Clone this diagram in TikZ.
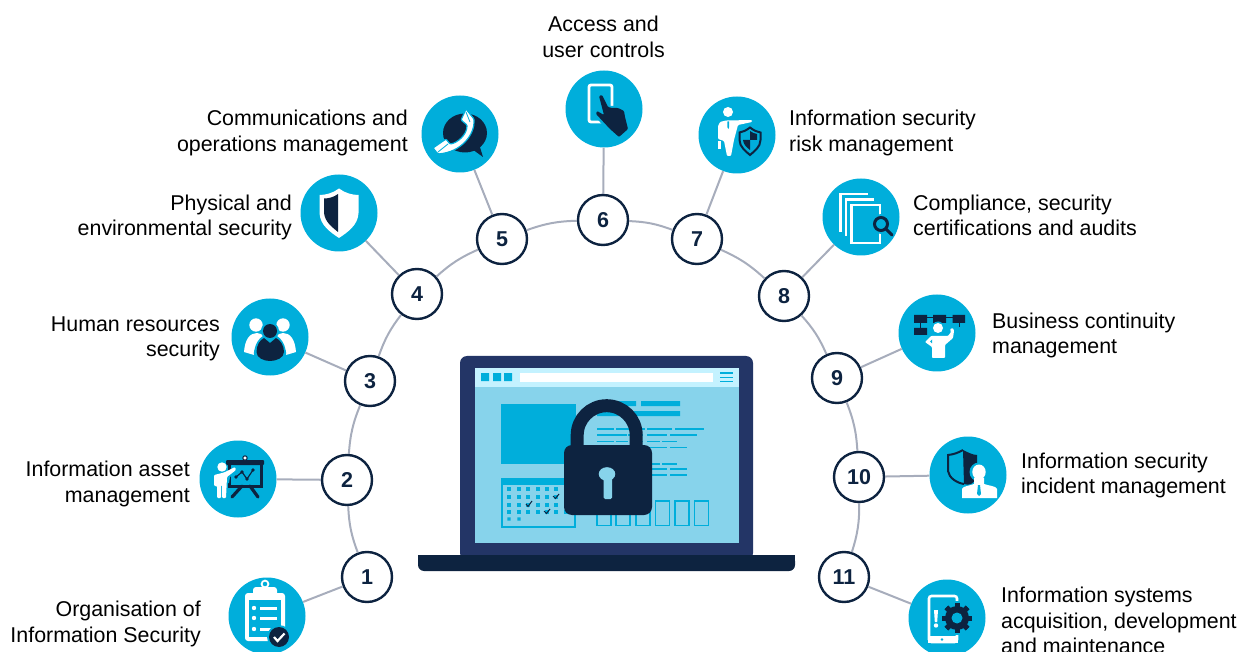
\documentclass[tikz,border=0pt]{standalone}
\usepackage{fontspec}
\setmainfont{Liberation Sans}
\definecolor{cy}{HTML}{00AEDB}
\definecolor{dk}{HTML}{0D2340}
\definecolor{nv}{HTML}{233566}
\definecolor{scr}{HTML}{87D3EB}
\definecolor{tb}{HTML}{C4F2FF}
\definecolor{gl}{HTML}{A7ADBC}
\tikzset{
  num/.style={circle,draw=dk,line width=2.4pt,fill=white,minimum size=50pt,inner sep=0pt,text=dk,font=\fontsize{21.5}{24}\bfseries\selectfont},
  iconc/.style={circle,fill=cy,minimum size=77pt,inner sep=0pt},
  lab/.style={inner sep=0pt,text=black,font=\fontsize{21.4}{25.3}\selectfont},
  link/.style={gl,line width=2pt}
}
\begin{document}
\begin{tikzpicture}[x=1pt,y=-1pt]
\clip (0,0) rectangle (1240,652);
% numbered nodes
\node[num] (n1) at (367,577) {1};
\node[num] (n2) at (347,480) {2};
\node[num] (n3) at (370,381) {3};
\node[num] (n4) at (417,294) {4};
\node[num] (n5) at (502,239) {5};
\node[num] (n6) at (603,220) {6};
\node[num] (n7) at (697,239) {7};
\node[num] (n8) at (784,296) {8};
\node[num] (n9) at (837,378) {9};
\node[num] (n10) at (859,477) {10};
\node[num] (n11) at (844,577) {11};
% icon discs
\node[iconc] (i1) at (267,616) {};
\node[iconc] (i2) at (238,479) {};
\node[iconc] (i3) at (270,337) {};
\node[iconc] (i4) at (339,213) {};
\node[iconc] (i5) at (460,134) {};
\node[iconc] (i6) at (604,109) {};
\node[iconc] (i7) at (737,135) {};
\node[iconc] (i8) at (861,217) {};
\node[iconc] (i9) at (937,333) {};
\node[iconc] (i10) at (968,475) {};
\node[iconc] (i11) at (947,618) {};
% connectors
\draw[link] (n1) to[bend left=9] (n2);
\draw[link] (n2) to[bend left=9] (n3);
\draw[link] (n3) to[bend left=9] (n4);
\draw[link] (n4) to[bend left=9] (n5);
\draw[link] (n5) to[bend left=9] (n6);
\draw[link] (n6) to[bend left=9] (n7);
\draw[link] (n7) to[bend left=9] (n8);
\draw[link] (n8) to[bend left=9] (n9);
\draw[link] (n9) to[bend left=9] (n10);
\draw[link] (n10) to[bend left=9] (n11);
\foreach \k in {1,...,11} {\draw[link] (n\k) -- (i\k);}
% labels
\node[lab,align=right,anchor=east] (t1) at (201,624) {Organisation of\\Information Security};
\node[lab,align=right,anchor=east] (t2) at (190,484) {Information asset\\management};
\node[lab,align=right,anchor=east] (t3) at (220,339) {Human resources\\security};
\node[lab,align=right,anchor=east] (t4) at (292,217.5) {Physical and\\environmental security};
\node[lab,align=right,anchor=east] (t5) at (408,133) {Communications and\\operations management};
\node[lab,align=center] (t6) at (603.5,37) {Access and\\user controls};
\node[lab,align=left,anchor=west] (t7) at (789,133) {Information security\\risk management};
\node[lab,align=left,anchor=west] (t8) at (913,215.5) {Compliance, security\\certifications and audits};
\node[lab,align=left,anchor=west] (t9) at (992,335.5) {Business continuity\\management};
\node[lab,align=left,anchor=west] (t10) at (1021,475.5) {Information security\\incident management};
\node[lab,align=left,anchor=west] (t11) at (1001,620.5) {Information systems\\acquisition, development\\and maintenance};
% ---- laptop
\fill[nv,rounded corners=7pt] (460,560) -- (460,356) -- (753,356) -- (753,560) -- cycle;
\fill[scr] (475,368) rectangle (739,543);
\fill[tb] (475,368) rectangle (739,387);
\fill[cy] (481,373) rectangle (489,381) (493,373) rectangle (501,381) (504,373) rectangle (512,381);
\fill[white] (520,373) rectangle (713,382);
\draw[cy,line width=1pt] (720,373) -- (733,373) (720,377) -- (733,377) (720,381) -- (733,381);
\fill[dk,rounded corners=6pt] (418,555) -- (418,571) -- (795,571) -- (795,555) -- cycle;
\fill[dk] (418,555) rectangle (795,562);
\fill[cy] (501,404) rectangle (576,464);
\fill[cy] (617,401) rectangle (636,406) (641,401) rectangle (680,406) (597,411) rectangle (680,416);
\draw[cy,line width=2pt] (502,479) rectangle (575,527);
\fill[cy] (501,478) rectangle (576,485);
\foreach \yy in {489,497,505,512}{\foreach \xx in {509,519,528,538,547,556,566}{\fill[cy] (\xx-1.6,\yy-1.6) rectangle (\xx+1.6,\yy+1.6);}}
\fill[cy] (507.4,517.4) rectangle (510.6,520.6) (517.4,517.4) rectangle (520.6,520.6);
\draw[dk,line width=1pt] (526,504) -- (528,506.5) -- (532,501) (553,496) -- (555.5,498.5) -- (559,494) (544,511) -- (546.5,513.5) -- (550,509);
\draw[cy,line width=1.5pt]
 (597,429) -- (614,429) (616,429) -- (628,429) (628,429) -- (645,429) (647,429) -- (672,429) (675,429) -- (704,429)
 (597,435) -- (627,435) (628,435) -- (643,435) (647,435) -- (667,435) (670,435) -- (697,435)
 (597,441.3) -- (614,441.3) (616,441.3) -- (628,441.3) (630,441.3) -- (643,441.3) (647,441.3) -- (660,441.3) (662,441.3) -- (677,441.3)
 (597,447.3) -- (614,447.3) (616,447.3) -- (627,447.3) (643,447.3) -- (667,447.3) (670,447.3) -- (687,447.3)
 (650,464) -- (660,464) (662,464) -- (677,464)
 (650,469) -- (667,469) (670,469) -- (687,469)
 (650,475) -- (667,475) (670,475) -- (687,475);
\draw[cy,line width=1.6pt] (597,501) rectangle (611,525.5) (616,501) rectangle (630,525.5) (636,501) rectangle (650,525.5) (655.5,501) rectangle (669.5,525.5) (675,501) rectangle (689,525.5) (694.5,501) rectangle (708.5,525.5);
% padlock
\draw[dk,line width=13pt] (577.2,450) -- (577.2,435.2) arc[start angle=180,end angle=360,radius=29.5] -- (636.2,450);
\fill[dk,rounded corners=8pt] (564,445) rectangle (652,515);
\fill[scr] (607,474) ellipse[x radius=8.3,y radius=6.8];
\fill[scr,rounded corners=1.5pt] (603.5,476) rectangle (612,499);
% ---- icon 1 clipboard
\begin{scope}[shift={(i1.center)}]
\fill[white,rounded corners=3pt] (-22,-23) rectangle (18,25);
\fill[cy] (-18,-16) rectangle (14,21);
\fill[white,rounded corners=3pt] (-14,-29) rectangle (10,-20);
\draw[white,line width=1.8pt] (-2,-32) circle[radius=3.4];
\foreach \yy in {-8,2,13}{\fill[white] (-13,\yy) circle[radius=2.2]; \draw[white,line width=3pt] (-7,\yy) -- (10,\yy);}
\fill[cy] (12,21) circle[radius=12];
\fill[dk] (12,21) circle[radius=10];
\draw[white,line width=2.2pt] (7,21) -- (10.5,25) -- (17.5,17.5);
\end{scope}
% ---- icon 2 presenter
\begin{scope}[shift={(i2.center)}]
\fill[dk,rounded corners=1pt] (-12,-19) rectangle (26,-14);
\draw[dk,line width=3pt] (-9,-14) -- (-9,7) -- (23,7) -- (23,-14);
\draw[dk,line width=3.2pt,line cap=round] (4,7) -- (-6,18) (12,7) -- (20,18);
\fill[white,draw=dk,line width=1pt] (7,-21) circle[radius=2.2];
\draw[dk,line width=1.2pt] (-2,-2) -- (4,-7) -- (9,0) -- (15,-9);
\foreach \p in {(-2,-2),(4,-7),(9,0),(15,-9)}{\fill[dk] \p circle[radius=1.9];}
\fill[cy] (-6,-14) -- (-1,-13) -- (-1,-8) -- (-8,-2) -- (-9,4) -- (-12,4) -- cycle;
\fill[white] (-16,-12) circle[radius=4.7];
\fill[white,rounded corners=1pt] (-24,-4) -- (-14,-6.5) -- (-3,-12) -- (-2,-9) -- (-11,-2) -- (-12,19) -- (-16,19) -- (-16,6) -- (-17,6) -- (-17,19) -- (-21,19) -- (-21,7) -- (-24,7) -- cycle;
\end{scope}
% ---- icon 3 people
\begin{scope}[shift={(i3.center)}]
\fill[white] (-14,-12) circle[radius=6.7] (13,-12) circle[radius=6.7];
\fill[white] (-26,15) .. controls (-25,2) and (-20,-4) .. (-13,-4) .. controls (-7,-4) and (-2,2) .. (0,15) -- (-16,18) -- cycle;
\fill[white] (26,15) .. controls (25,2) and (20,-4) .. (13,-4) .. controls (7,-4) and (2,2) .. (0,15) -- (16,18) -- cycle;
\fill[cy] (-16,25) .. controls (-18,8) and (-10,-3) .. (0,-3) .. controls (10,-3) and (18,8) .. (16,25) -- cycle;
\fill[cy] (0,-6) circle[radius=9];
\fill[dk] (0,-6) circle[radius=7];
\fill[dk] (-13.5,15) .. controls (-13.5,8) and (-10,3) .. (-6,1) -- (0,6) -- (6,1) .. controls (10,3) and (14,8) .. (14,15) .. controls (14,21) and (6,24) .. (0,24) .. controls (-6,24) and (-13.5,21) .. (-13.5,15) -- cycle;
\end{scope}
% ---- icon 4 shield
\begin{scope}[shift={(i4.center)}]
\fill[white] (0,-24.5) .. controls (-6,-20) and (-13,-18) .. (-19.5,-18) -- (-19.5,0) .. controls (-19,12) and (-9,19) .. (0,25) .. controls (9,19) and (19,12) .. (19.5,0) -- (19.5,-18) .. controls (13,-18) and (6,-20) .. (0,-24.5) -- cycle;
\fill[dk] (-1,-19) .. controls (-5,-16) and (-10,-14.5) .. (-15,-14.5) -- (-15,0) .. controls (-14,9) and (-7,14) .. (-1,19) -- cycle;
\end{scope}
% ---- icon 5 phone and speech bubble
\begin{scope}[shift={(i5.center)}]
\fill[dk] (5,-1) ellipse[x radius=22,y radius=19.5];
\fill[dk] (12,15) -- (23,23) -- (19,10) -- cycle;
\fill[dk] (-4,16) -- (12,17) -- (8,14) -- cycle;
\fill[white,draw=cy,line width=1.2pt,rounded corners=1pt] (-27,14) -- (-14,5) -- (-10,10) .. controls (-3,9) and (7,1) .. (7,-9) -- (1,-14) -- (6,-25) -- (14,-15) .. controls (15,0) and (2,18) .. (-22,20) -- cycle;
\draw[cy,line width=.8pt] (-22,18) -- (-12,10) (6,-22) -- (10,-12);
\end{scope}
% ---- icon 6 touch
\begin{scope}[shift={(i6.center)}]
\draw[white,line width=2.8pt,rounded corners=2pt] (-15,-24) rectangle (8,13);
\fill[cy] (-8,-15) -- (1,-15) -- (6,-3) -- (18,-3) -- (27,21) -- (14,30) -- (3,21) -- (-11,5) -- (-8,0) -- cycle;
\fill[dk,rounded corners=1pt] (-5,-13) -- (-2,-14) -- (4,-2) -- (8,-1) -- (14,-1) -- (20,2) -- (21,8) -- (24,20) -- (15,28) -- (6,20) -- (-8,5) -- (-7,2) -- (0,6) -- cycle;
\end{scope}
% ---- icon 7 person with shield
\begin{scope}[shift={(i7.center)}]
\fill[white] (-9,-23) circle[radius=5];
\fill[white,rounded corners=1pt] (-19,-9) -- (-17,-13) -- (-11,-14.5) -- (15,-15) -- (15,-13) -- (1,-10) -- (-3,5) -- (-6,21) -- (-10,21) -- (-13,6) -- (-19,4) -- cycle;
\fill[white] (-19,6) rectangle (-16,14);
\fill[cy] (-9.5,-13.5) -- (-8,-13.5) -- (-7.8,-8) -- (-8.7,-6) -- (-9.7,-8) -- cycle;
\fill[cy] (13,-9) -- (1.5,-3.5) -- (1.5,5) .. controls (1.5,13) and (8,18) .. (13,22) .. controls (18,18) and (25,13) .. (25,5) -- (25,-3.5) -- cycle;
\draw[dk,line width=2pt] (13,-7.5) .. controls (9,-4.5) and (6,-3) .. (2.5,-2.5) -- (2.5,5) .. controls (2.5,12) and (9,16.5) .. (13,20) .. controls (17,16.5) and (23.5,12) .. (23.5,5) -- (23.5,-2.5) .. controls (20,-3) and (17,-4.5) .. (13,-7.5) -- cycle;
\fill[dk] (13,-4) .. controls (15,-2.5) and (17,-1.5) .. (20,-1) -- (20,5) -- (13,5) -- cycle;
\fill[dk] (6,5) -- (13,5) -- (13,15) .. controls (10,12.5) and (6.5,10) .. (6,5) -- cycle;
\end{scope}
% ---- icon 8 pages and magnifier
\begin{scope}[shift={(i8.center)}]
\draw[white,line width=2.4pt] (-20.5,15) -- (-20.5,-23) -- (7,-23);
\draw[white,line width=2.4pt] (-15,19) -- (-15,-17.5) -- (12.5,-17.5);
\draw[white,line width=2.4pt] (-9.5,-12) rectangle (19,26);
\fill[cy] (20,7) circle[radius=10];
\draw[dk,line width=3pt] (20,7) circle[radius=6.5];
\draw[dk,line width=3pt,line cap=round] (25,12) -- (31,18);
\end{scope}
% ---- icon 9 process and person
\begin{scope}[shift={(i9.center)}]
\fill[dk] (-23,-18) rectangle (-10,-10) (-4,-18) rectangle (9,-10) (15.5,-18) rectangle (28,-10) (-23,-5) rectangle (-10,2);
\draw[dk,line width=1pt] (-10,-15) -- (-4,-15) (9,-15) -- (15.5,-15) (-16.5,-5) -- (-16.5,-10) (22,-10) -- (22,-6);
\fill[cy] (1,-5) circle[radius=6.5];
\fill[white] (1,-5) circle[radius=5];
\fill[white,rounded corners=.8pt] (-6,3) -- (-12,9) -- (-5,14) -- (-5,25) -- (8,25) -- (8,12) -- (16,5) -- (17,-2) -- (16,-5) -- (13,-4) -- (14,-1) -- (11,3) -- cycle;
\fill[cy] (-7,8.5) -- (-5,6.5) -- (-5,10.5) -- cycle;
\end{scope}
% ---- icon 10 shield and person
\begin{scope}[shift={(i10.center)}]
\fill[dk] (-5,-25) .. controls (-1,-23) and (5,-20) .. (9,-20) -- (9,2) .. controls (6,9) and (1,11) .. (-4,9) -- cycle;
\draw[dk,line width=2pt] (-5,-25) .. controls (-10,-22) and (-15,-20.5) .. (-20,-20) -- (-20,-4) .. controls (-19,3) and (-11,8) .. (-4,9);
\fill[cy] (11,-3) circle[radius=9.5];
\fill[cy] (-8,23) -- (-8,13) -- (30,13) -- (30,23) -- cycle;
\fill[white] (11,-3) ellipse[x radius=6.7,y radius=7.5];
\fill[white] (-6,23) -- (-6,14) .. controls (-5,11) and (1,11) .. (6,9) -- (6,3) -- (16,3) -- (16,9) .. controls (22,11) and (28,11) .. (29,14) -- (29,23) -- cycle;
\fill[cy] (10,10) -- (12,10) -- (13,19) -- (11,21) -- (9,19) -- cycle;
\end{scope}
% ---- icon 11 device and gear
\begin{scope}[shift={(i11.center)}]
\draw[white,line width=2.6pt,rounded corners=2.5pt] (10,-9) -- (10,-22) -- (-18,-22) -- (-18,24) -- (10,24) -- (10,14);
\fill[white] (-19,18) rectangle (11,25);
\fill[cy] (-5,21.5) circle[radius=1.4];
\fill[white] (-13,-8) -- (-9,-8) -- (-9.8,4) -- (-12.2,4) -- cycle;
\fill[white] (-11,7.5) circle[radius=2.2];
\fill[cy] (10,0) circle[radius=17];
\foreach \a in {0,45,...,315}{\fill[dk,rotate around={\a:(10,0)}] (7.5,-15) rectangle (12.5,15);}
\fill[dk] (10,0) circle[radius=12];
\fill[cy] (10,0) circle[radius=5.5];
\end{scope}
\end{tikzpicture}
\end{document}
